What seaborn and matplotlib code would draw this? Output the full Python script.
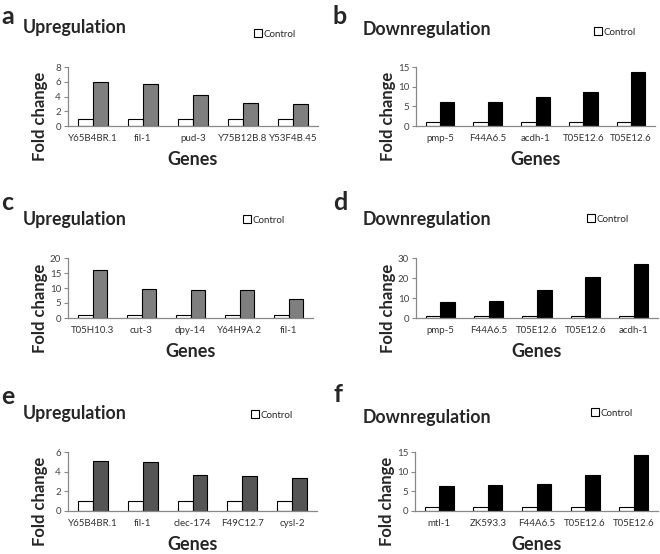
import matplotlib
matplotlib.use("Agg")
import matplotlib.pyplot as plt
import seaborn as sns
import pandas as pd
from matplotlib.patches import Patch

# data
genes_a = ["Y65B4BR.1", "fil-1", "pud-3", "Y75B12B.8", "Y53F4B.45"]
fold_a = [5.9, 5.75, 4.25, 3.1, 2.95]
genes_b = ["pmp-5", "F44A6.5", "acdh-1", "T05E12.6", "T05E12.6"]
fold_b = [6.0, 6.2, 7.4, 8.6, 13.7]
genes_c = ["T05H10.3", "cut-3", "dpy-14", "Y64H9A.2", "fil-1"]
fold_c = [16.0, 9.8, 9.4, 9.4, 6.4]
genes_d = ["pmp-5", "F44A6.5", "T05E12.6", "T05E12.6", "acdh-1"]
fold_d = [8.2, 8.4, 14.0, 20.4, 27.0]
genes_e = ["Y65B4BR.1", "fil-1", "clec-174", "F49C12.7", "cysl-2"]
fold_e = [5.1, 5.0, 3.7, 3.6, 3.35]
genes_f = ["mtl-1", "ZK593.3", "F44A6.5", "T05E12.6", "T05E12.6"]
fold_f = [6.4, 6.6, 6.8, 9.2, 14.2]
control = [1, 1, 1, 1, 1]

yticks_a = [0, 2, 4, 6, 8]
yticks_b = [0, 5, 10, 15]
yticks_c = [0, 5, 10, 15, 20]
yticks_d = [0, 10, 20, 30]
yticks_e = [0, 2, 4, 6]
yticks_f = [0, 5, 10, 15]

W, H = 660, 554
sns.set_style("white")
plt.rcParams["font.family"] = ["Lato", "DejaVu Sans"]

fig = plt.figure(figsize=(W / 100, H / 100), dpi=100)

# letter, title, genes, values, yticks, colour, axes box px (left, top, right, bottom), letter y, title y, legend x, y
panels = [
    ("a", "Upregulation", genes_a, fold_a, yticks_a, "#7f7f7f", (68, 67, 318, 126), 17, 27, 254, 34),
    ("b", "Downregulation", genes_b, fold_b, yticks_b, "#000000", (416, 67, 655, 126), 16, 30, 594, 32),
    ("c", "Upregulation", genes_c, fold_c, yticks_c, "#7f7f7f", (68, 258, 313, 318), 203, 219, 243, 220),
    ("d", "Downregulation", genes_d, fold_d, yticks_d, "#000000", (416, 258, 658, 318), 203, 219, 587, 219),
    ("e", "Upregulation", genes_e, fold_e, yticks_e, "#555555", (68, 452, 317, 511), 397, 414, 251, 415),
    ("f", "Downregulation", genes_f, fold_f, yticks_f, "#000000", (415, 452, 658, 511), 394, 417, 591, 413),
]

for letter, title, genes, vals, yt, col, box, ly, ty, lgx, lgy in panels:
    l, t, r, b = box
    ax = fig.add_axes([l / W, 1 - b / H, (r - l) / W, (b - t) / H])
    cats = [str(i) for i in range(len(genes))]
    df = pd.DataFrame({
        "gene": cats * 2,
        "group": ["Control"] * len(cats) + ["Treated"] * len(cats),
        "fold": control + vals,
    })
    sns.barplot(data=df, x="gene", y="fold", hue="group", order=cats,
                palette=["white", col], edgecolor="black", linewidth=0.8,
                width=0.6, errorbar=None, ax=ax, legend=False)
    ax.set_xlim(-0.5, len(cats) - 0.5)
    ax.set_ylim(yt[0], yt[-1])
    ax.set_yticks(yt)
    ax.set_xticks(range(len(cats)))
    ax.set_xticklabels(genes)
    ax.set_xticks([i - 0.5 for i in range(len(cats) + 1)], minor=True)
    ax.tick_params(axis="x", which="major", length=0, pad=6, labelsize=7, labelcolor="#333333")
    ax.tick_params(axis="x", which="minor", length=4, width=0.8, color="#888888", direction="out")
    ax.tick_params(axis="y", length=3, width=0.8, color="#888888", labelsize=7,
                   labelcolor="#444444", pad=2, left=True)
    for s in ["top", "right"]:
        ax.spines[s].set_visible(False)
    for s in ["left", "bottom"]:
        ax.spines[s].set_color("#888888")
        ax.spines[s].set_linewidth(0.9)
    wpx, hpx = r - l, b - t
    ax.set_ylabel("Fold change", fontsize=12, fontweight="bold")
    ax.yaxis.set_label_coords(-20 / wpx, 0.5 - 20 / hpx)
    ax.set_xlabel("Genes", fontsize=13, fontweight="bold")
    ax.xaxis.set_label_coords(0.5, -25 / hpx)

    fig.text((1 if l < 300 else 333) / W, 1 - ly / H, letter,
             fontsize=18, fontweight="bold", va="center", ha="left")
    fig.text((23 if l < 300 else 363) / W, 1 - ty / H, title,
             fontsize=12.8, fontweight="bold", va="center", ha="left")
    fig.legend(handles=[Patch(facecolor="white", edgecolor="black", linewidth=0.8)],
               labels=["Control"], loc="center left", bbox_to_anchor=(lgx / W, 1 - lgy / H),
               frameon=False, fontsize=7, handlelength=0.8, handleheight=0.8,
               handletextpad=0.2, borderpad=0, borderaxespad=0)

fig.savefig("out.png", dpi=100)
